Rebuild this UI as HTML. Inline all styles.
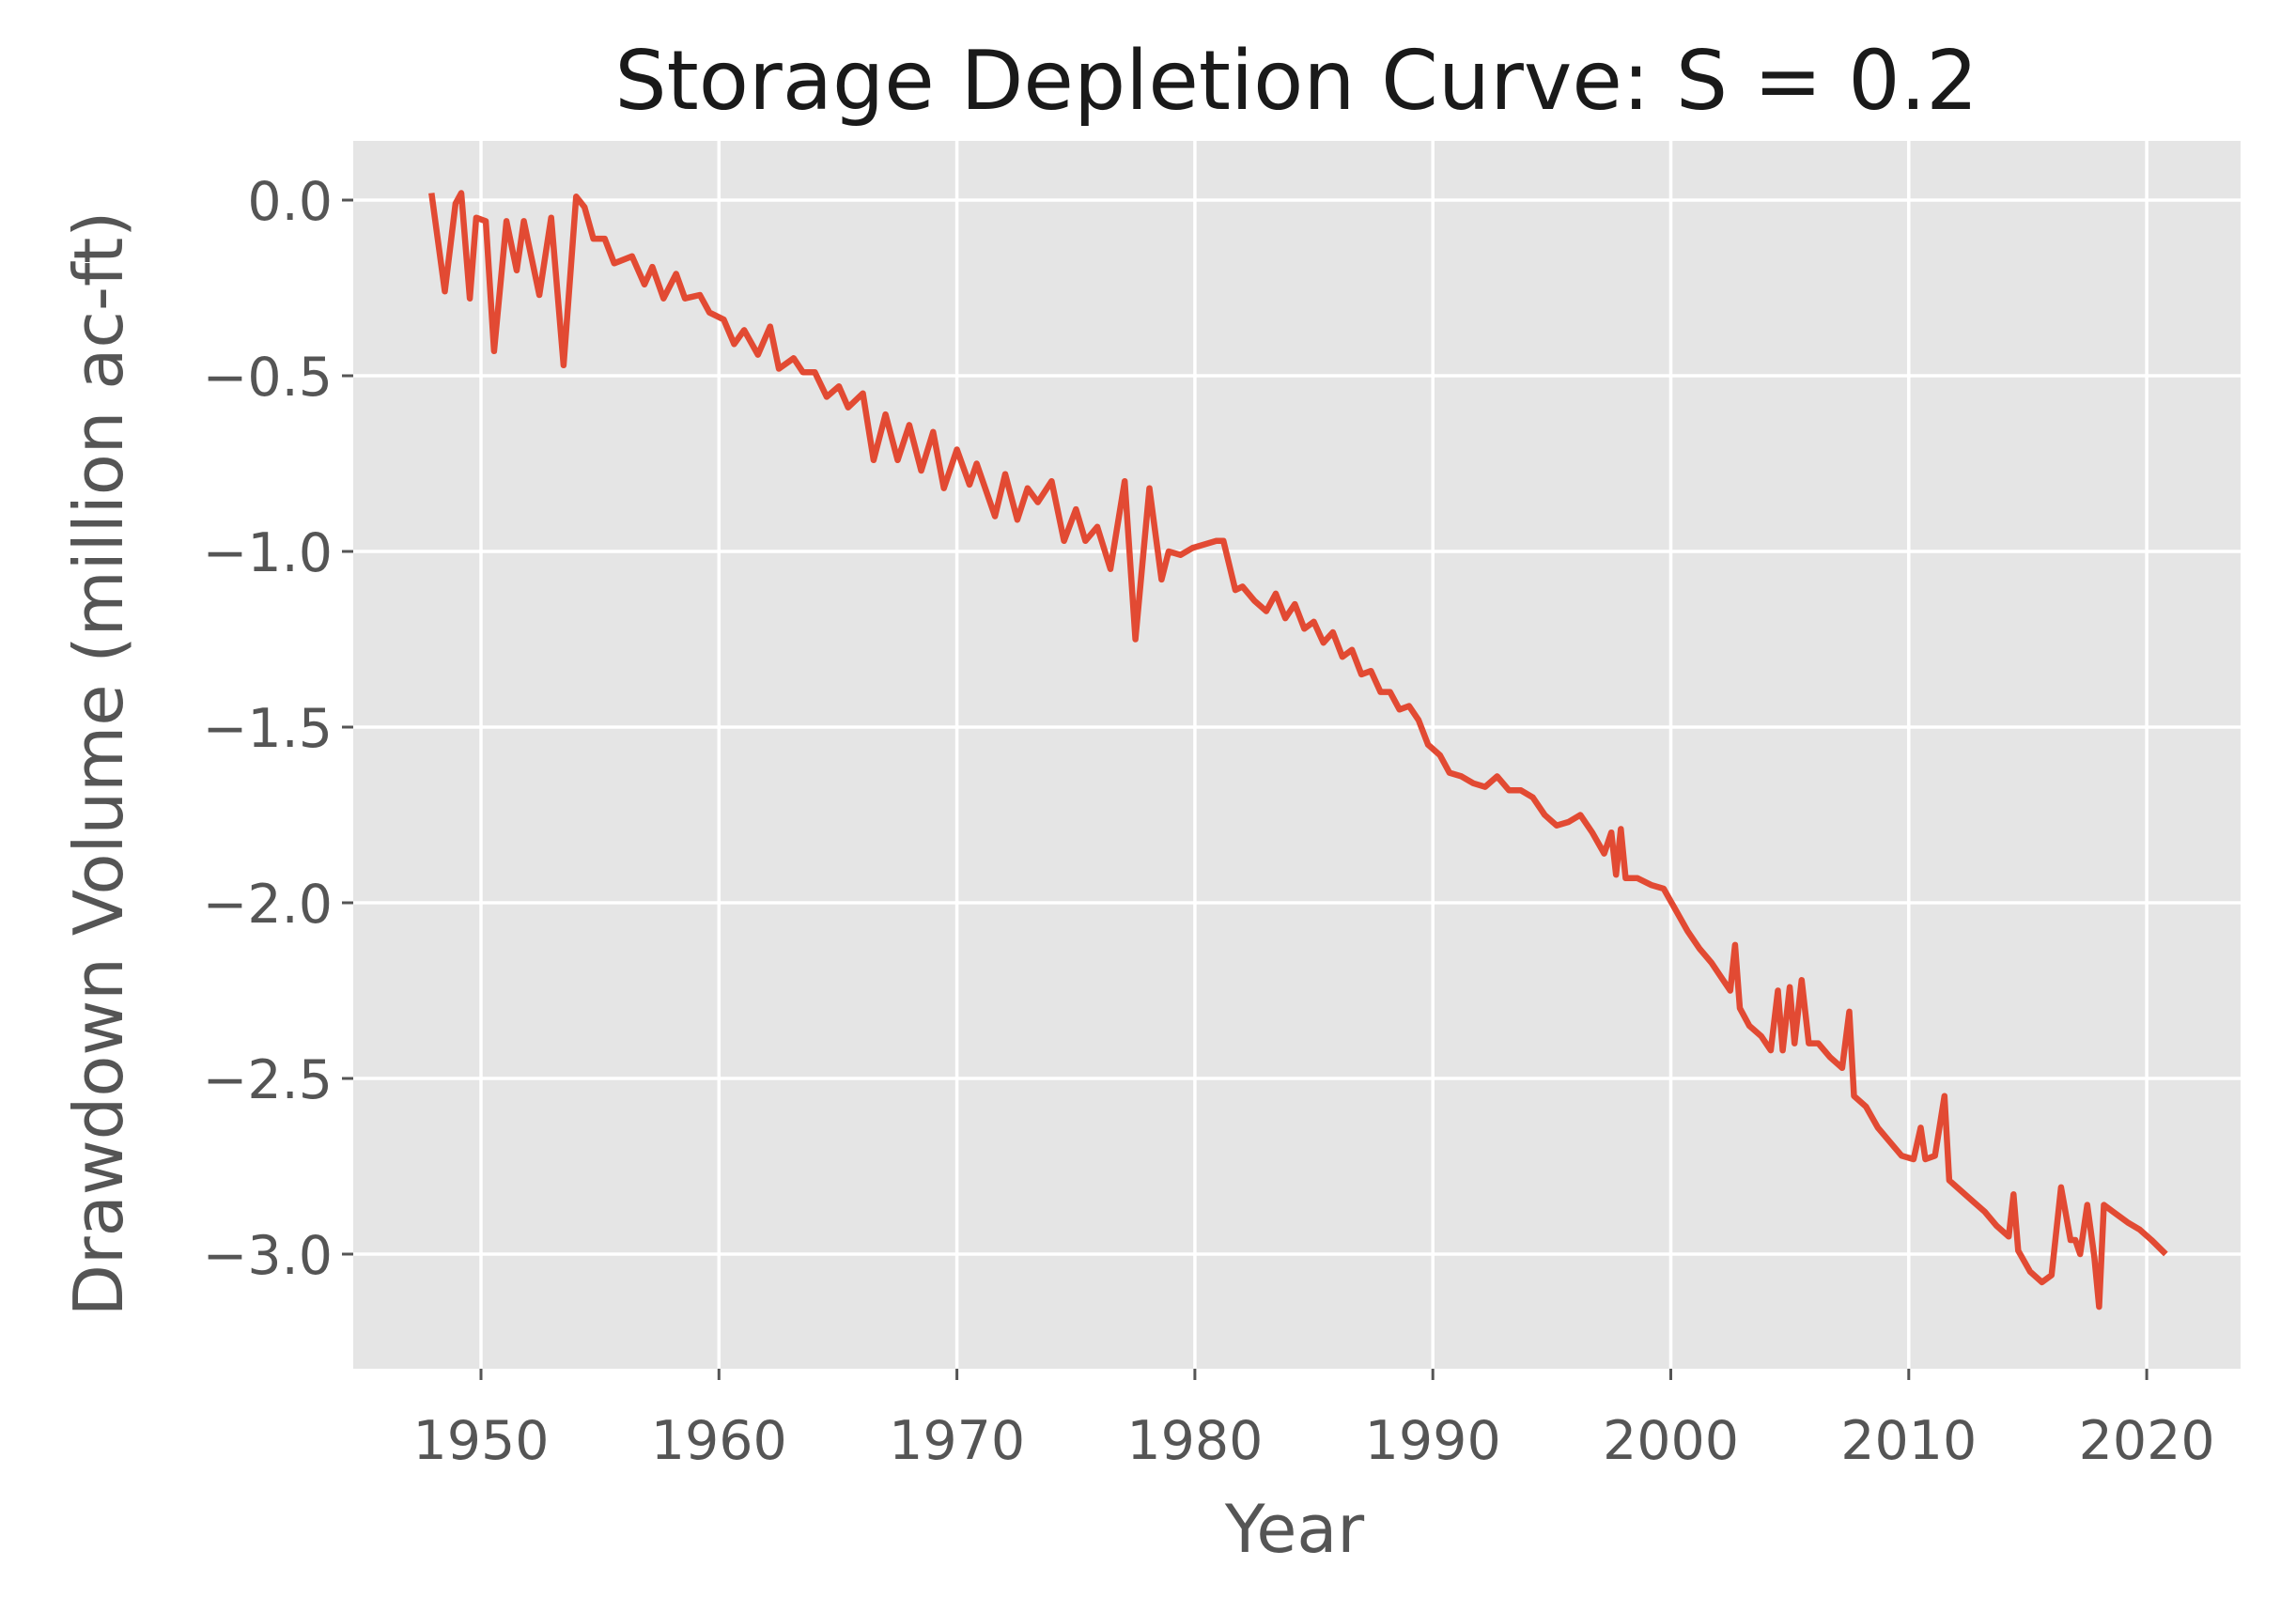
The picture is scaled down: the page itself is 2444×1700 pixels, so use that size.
<!DOCTYPE html>
<html><head><meta charset="utf-8"><style>
html,body{margin:0;padding:0;background:#fff;}
svg{display:block;font-family:"DejaVu Sans","Liberation Sans",sans-serif;}
</style></head><body>
<svg id="chart" width="2444" height="1700" viewBox="0 0 2444 1700">
<rect x="376" y="150" width="2009" height="1307" fill="#e5e5e5"/>
<g id="grid"></g>
<g id="ticks"></g>
<path id="line" fill="none" stroke="#E24A33" stroke-width="6.5" stroke-linejoin="round"/>
<text x="1380" y="116" font-size="87" text-anchor="middle" fill="#1a1a1a">Storage Depletion Curve: S = 0.2</text>
<text x="1378" y="1652" font-size="70" text-anchor="middle" fill="#555">Year</text>
<text transform="translate(130,813) rotate(-90)" font-size="72" text-anchor="middle" fill="#555">Drawdown Volume (million ac-ft)</text>
</svg>
<script>
const years=[1947.92,1948.48,1948.93,1949.17,1949.53,1949.8,1950.2,1950.55,1951.07,1951.5,1951.8,1952.45,1952.95,1953.47,1954.0,1954.35,1954.72,1955.2,1955.6,1956.35,1956.87,1957.2,1957.67,1958.2,1958.57,1959.2,1959.6,1960.2,1960.64,1961.06,1961.64,1962.15,1962.52,1963.14,1963.53,1964.03,1964.53,1965.04,1965.43,1966.05,1966.5,1967.0,1967.51,1968.0,1968.5,1969.0,1969.45,1970.0,1970.53,1970.83,1971.6,1972.03,1972.54,1972.97,1973.4,1973.98,1974.5,1975.0,1975.4,1975.9,1976.45,1977.05,1977.5,1978.09,1978.6,1978.9,1979.4,1979.9,1980.9,1981.2,1981.7,1982.0,1982.5,1983.0,1983.4,1983.8,1984.2,1984.6,1985.0,1985.4,1985.8,1986.2,1986.6,1987.0,1987.4,1987.8,1988.2,1988.6,1989.0,1989.4,1989.8,1990.3,1990.7,1991.2,1991.7,1992.2,1992.7,1993.2,1993.7,1994.2,1994.7,1995.2,1995.7,1996.2,1996.7,1997.2,1997.5,1997.7,1997.9,1998.1,1998.6,1999.2,1999.7,2000.2,2000.7,2001.2,2001.7,2002.2,2002.5,2002.7,2002.9,2003.3,2003.8,2004.2,2004.5,2004.7,2005.0,2005.2,2005.5,2005.8,2006.2,2006.7,2007.2,2007.5,2007.7,2008.2,2008.7,2009.2,2009.7,2010.2,2010.5,2010.7,2011.1,2011.5,2011.7,2012.2,2012.7,2013.2,2013.7,2014.2,2014.4,2014.6,2015.1,2015.6,2016.0,2016.4,2016.8,2017.0,2017.2,2017.5,2017.8,2018.0,2018.2,2018.6,2019.2,2019.7,2020.2,2020.8];
const values=[0.02,-0.26,-0.01,0.02,-0.28,-0.05,-0.06,-0.43,-0.06,-0.2,-0.06,-0.27,-0.05,-0.47,0.01,-0.02,-0.11,-0.11,-0.18,-0.16,-0.24,-0.19,-0.28,-0.21,-0.28,-0.27,-0.32,-0.34,-0.41,-0.37,-0.44,-0.36,-0.48,-0.45,-0.49,-0.49,-0.56,-0.53,-0.59,-0.55,-0.74,-0.61,-0.74,-0.64,-0.77,-0.66,-0.82,-0.71,-0.81,-0.75,-0.9,-0.78,-0.91,-0.82,-0.86,-0.8,-0.97,-0.88,-0.97,-0.93,-1.05,-0.8,-1.25,-0.82,-1.08,-1.0,-1.01,-0.99,-0.97,-0.97,-1.11,-1.1,-1.14,-1.17,-1.12,-1.19,-1.15,-1.22,-1.2,-1.26,-1.23,-1.3,-1.28,-1.35,-1.34,-1.4,-1.4,-1.45,-1.44,-1.48,-1.55,-1.58,-1.63,-1.64,-1.66,-1.67,-1.64,-1.68,-1.68,-1.7,-1.75,-1.78,-1.77,-1.75,-1.8,-1.86,-1.8,-1.92,-1.79,-1.93,-1.93,-1.95,-1.96,-2.02,-2.08,-2.13,-2.17,-2.22,-2.25,-2.12,-2.3,-2.35,-2.38,-2.42,-2.25,-2.42,-2.24,-2.4,-2.22,-2.4,-2.4,-2.44,-2.47,-2.31,-2.55,-2.58,-2.64,-2.68,-2.72,-2.73,-2.64,-2.73,-2.72,-2.55,-2.79,-2.82,-2.85,-2.88,-2.92,-2.95,-2.83,-2.99,-3.05,-3.08,-3.06,-2.81,-2.96,-2.96,-3.0,-2.86,-3.01,-3.15,-2.86,-2.88,-2.91,-2.93,-2.96,-3.0];
const xTicks=[1950,1960,1970,1980,1990,2000,2010,2020];
const yTicks=[0,-0.5,-1,-1.5,-2,-2.5,-3];
const yTickLabels=["0.0","\u22120.5","\u22121.0","\u22121.5","\u22122.0","\u22122.5","\u22123.0"];
const L=376,R=2385,T=150,B=1457;
const sx=y=>512+(y-1950)*25.33;
const sy=v=>213-v*374;
const NS="http://www.w3.org/2000/svg";
const grid=document.getElementById('grid'),ticks=document.getElementById('ticks');
function mk(tag,attrs,parent){const e=document.createElementNS(NS,tag);for(const k in attrs)e.setAttribute(k,attrs[k]);parent.appendChild(e);return e;}
xTicks.forEach(t=>{
  const x=sx(t);
  const g=mk('line',{x1:x,x2:x,y1:T,y2:B,stroke:'#fff','stroke-width':3.5},grid);
  
  
  const tk=mk('line',{x1:x,x2:x,y1:B,y2:B+12,stroke:'#555','stroke-width':3},ticks);
  
  
  const tx=mk('text',{x:x,y:B+96,'font-size':57,'text-anchor':'middle',fill:'#555'},ticks);
  tx.textContent=t;
  
  
});
yTicks.forEach((t,i)=>{
  const y=sy(t);
  const g=mk('line',{x1:L,x2:R,y1:y,y2:y,stroke:'#fff','stroke-width':3.5},grid);
  
  
  const tk=mk('line',{x1:L-12,x2:L,y1:y,y2:y,stroke:'#555','stroke-width':3},ticks);
  
  
  const tx=mk('text',{x:L-22,y:y+21,'font-size':57,'text-anchor':'end',fill:'#555'},ticks);
  tx.textContent=yTickLabels[i];
  
  
});
document.getElementById('line').setAttribute('d',years.map((y,i)=>(i?'L':'M')+sx(y).toFixed(1)+' '+sy(values[i]).toFixed(1)).join(' '));
</script>
</body></html>
